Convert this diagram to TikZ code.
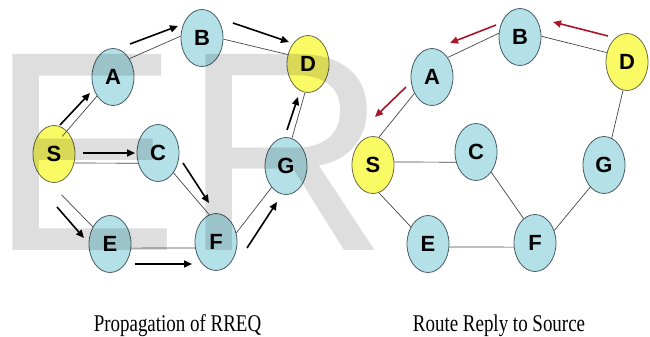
\documentclass[tikz,border=0pt]{standalone}
\usepackage{fontspec}
\setmainfont{Liberation Serif}
\newfontfamily\lblfont{Liberation Sans}
\newfontfamily\wmfont{Liberation Sans}
\usetikzlibrary{arrows.meta,shapes.geometric,calc}

\definecolor{nodecyan}{RGB}{180,224,232}
\definecolor{nodeedge}{RGB}{70,92,102}
\definecolor{nodeyellow}{RGB}{250,250,100}
\definecolor{yellowedge}{RGB}{105,105,70}
\definecolor{linkgray}{RGB}{70,70,70}
\definecolor{replyred}{RGB}{168,22,40}

\begin{document}
\begin{tikzpicture}[x=1pt,y=-1pt,
  peer/.style={ellipse, draw=nodeedge, line width=0.8pt, fill=nodecyan,
    minimum width=42pt, minimum height=57pt, inner sep=0pt,
    font=\lblfont\bfseries\fontsize{22pt}{22pt}\selectfont},
  endpt/.style={peer, fill=nodeyellow, draw=yellowedge},
  link/.style={draw=linkgray, line width=0.7pt},
  req/.style={draw=black, line width=1.6pt, -{Triangle[length=8pt,width=7pt]}},
  rep/.style={req, draw=replyred, color=replyred},
  caption/.style={anchor=base, inner sep=0pt, font=\fontsize{24pt}{24pt}\selectfont}]

\useasboundingbox (0,0) rectangle (650,337);

% ---------- left: route request flooding ----------
\node[endpt] (lS) at (54,154) {S};
\node[peer]  (lA) at (113,77) {A};
\node[peer]  (lB) at (202,38) {B};
\node[peer]  (lC) at (158,153) {C};
\node[endpt] (lD) at (308,64) {D};
\node[peer]  (lG) at (286,166) {G};
\node[peer]  (lE) at (110,244) {E};
\node[peer]  (lF) at (216,242) {F};

% ---------- right: reply back to the source ----------
\node[endpt] (rS) at (373,165) {S};
\node[peer]  (rA) at (432,77) {A};
\node[peer]  (rB) at (520,37) {B};
\node[peer]  (rC) at (476,152) {C};
\node[endpt] (rD) at (627,62) {D};
\node[peer]  (rG) at (604,165) {G};
\node[peer]  (rE) at (428,244) {E};
\node[peer]  (rF) at (535,243) {F};

% faint "ER" lettering across the left half
\node[anchor=base west, inner sep=0pt, text=black, text opacity=0.13,
  font=\wmfont\fontsize{285pt}{285pt}\selectfont] (wmE) at (-10.5,250) {E};
\node[anchor=base west, inner sep=0pt, text=black, text opacity=0.13,
  font=\wmfont\fontsize{285pt}{285pt}\selectfont] (wmR) at (182,250) {R};

% links, left graph
\draw[link] ($(lS)!0.72!(lS.65)$) -- (lA.230);
\draw[link] (lA.48) -- (lB.175);
\draw[link] (lB.-3) -- (lD.155);
\draw[link] (lS.-24) -- (lC.207);
\draw[link, shorten <=18pt] (lS.-100) -- (lE.135);
\draw[link] (lC.-52) -- (lF.104);
\draw[link] (lE.-11) -- (lF.196);
\draw[link] (lF.24) -- (lG.236);
\draw[link] (lG.78) -- (lD.264);

% links, right graph
\draw[link] (rS.78) -- (rA.223);
\draw[link] (rA.51) -- (rB.170);
\draw[link] (rB.2) -- (rD.155);
\draw[link] (rS.8) -- (rC.207);
\draw[link] (rS.-78) -- (rE.135);
\draw[link] (rE.-8) -- (rF.191);
\draw[link] (rC.-53) -- (rF.115);
\draw[link] (rF.33) -- (rG.238);
\draw[link] (rG.74) -- (rD.262);

% RREQ propagation arrows
\draw[req] (60,125) coordinate (q1a) -- (90,93) coordinate (q1b);
\draw[req] (130,44) coordinate (q2a) -- (178,26) coordinate (q2b);
\draw[req] (233,23) coordinate (q3a) -- (289,42) coordinate (q3b);
\draw[req] (83,153) coordinate (q4a) -- (135,153) coordinate (q4b);
\draw[req] (57,207) coordinate (q5a) -- (84,238) coordinate (q5b);
\draw[req] (183,163) coordinate (q6a) -- (209,203) coordinate (q6b);
\draw[req] (135,264) coordinate (q7a) -- (192,264) coordinate (q7b);
\draw[req] (247,248) coordinate (q8a) -- (277,202) coordinate (q8b);
\draw[req] (287,130) coordinate (q9a) -- (298,97) coordinate (q9b);

% route reply arrows
\draw[rep] (608,36) coordinate (p1a) -- (553,22) coordinate (p1b);
\draw[rep] (496,25) coordinate (p2a) -- (450,43) coordinate (p2b);
\draw[rep] (406,87) coordinate (p3a) -- (375,117) coordinate (p3b);

% captions
\node[caption] (capL) at (177.5,331) {\scalebox{0.79}[1]{Propagation of RREQ}};
\node[caption] (capR) at (499,331) {\scalebox{0.79}[1]{Route Reply to Source}};
\end{tikzpicture}
\end{document}
